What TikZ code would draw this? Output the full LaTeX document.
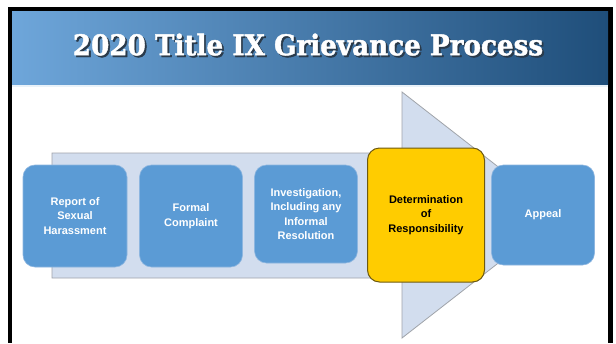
\documentclass[tikz,border=0pt]{standalone}
\usepackage{fontspec}
\setmainfont{Liberation Sans}
\newfontfamily\titlefont[FakeStretch=0.92,FakeBold=1.5]{DejaVu Serif}
\definecolor{boxblue}{HTML}{5B9BD5}
\definecolor{boxedge}{HTML}{8DB6E0}
\definecolor{arrowfill}{HTML}{D2DDEE}
\definecolor{arrowedge}{HTML}{A0A4AA}
\definecolor{yel}{HTML}{FFCC00}
\definecolor{yeledge}{HTML}{6E5A10}
\definecolor{banL}{HTML}{6EA6DA}
\definecolor{banR}{HTML}{1F4E7A}
\definecolor{shadowc}{HTML}{2A3A4A}
\newcommand{\shadowtext}[1]{\makebox[0pt][l]{\hspace{1.8pt}\raisebox{-1.8pt}{\textcolor{shadowc}{#1}}}#1}
\tikzset{
  stepbox/.style={rounded corners=12pt, fill=boxblue, draw=boxedge, line width=0.6pt,
    text=white, font=\bfseries\fontsize{11}{14.5}\selectfont, align=center, inner sep=0pt},
  keybox/.style={rounded corners=12pt, fill=yel, draw=yeledge, line width=1pt,
    text=black, font=\bfseries\fontsize{11}{14.5}\selectfont, align=center, inner sep=0pt},
}
\begin{document}
\begin{tikzpicture}[x=1pt,y=-1pt]
\useasboundingbox (0,0) rectangle (616,343);
\fill[white] (0,0) rectangle (616,343);
% frame
\fill[black] (8,7) rectangle (613,11);
\fill[black] (8,7) rectangle (12,343);
\fill[black] (608,7) rectangle (613,343);
% banner
\shade[left color=banL, right color=banR] (12,11) rectangle (608,85);
\fill[white!85!banL] (12,85) rectangle (608,87);
\node[font=\titlefont\bfseries\fontsize{28.5}{32}\selectfont, text=white] (title) at (308,45.5) {\shadowtext{2020 Title IX Grievance Process}};
% big arrow
\draw[fill=arrowfill, draw=arrowedge, line width=0.8pt]
  (52,153) -- (402,153) -- (402,92) -- (560,215) -- (402,338) -- (402,278) -- (52,278) -- cycle;
% boxes
\node[stepbox, minimum width=104pt, minimum height=102pt] (report) at (75,216) {Report of\\Sexual\\Harassment};
\node[stepbox, minimum width=103pt, minimum height=102pt] (formal) at (191,216) {Formal\\Complaint};
\node[stepbox, minimum width=103pt, minimum height=98pt] (invest) at (306,214) {Investigation,\\Including any\\Informal\\Resolution};
\node[keybox, minimum width=117pt, minimum height=134pt] (determ) at (426,215) {Determination\\of\\Responsibility};
\node[stepbox, minimum width=103pt, minimum height=100pt] (appeal) at (543,215) {Appeal};
\end{tikzpicture}
\end{document}
